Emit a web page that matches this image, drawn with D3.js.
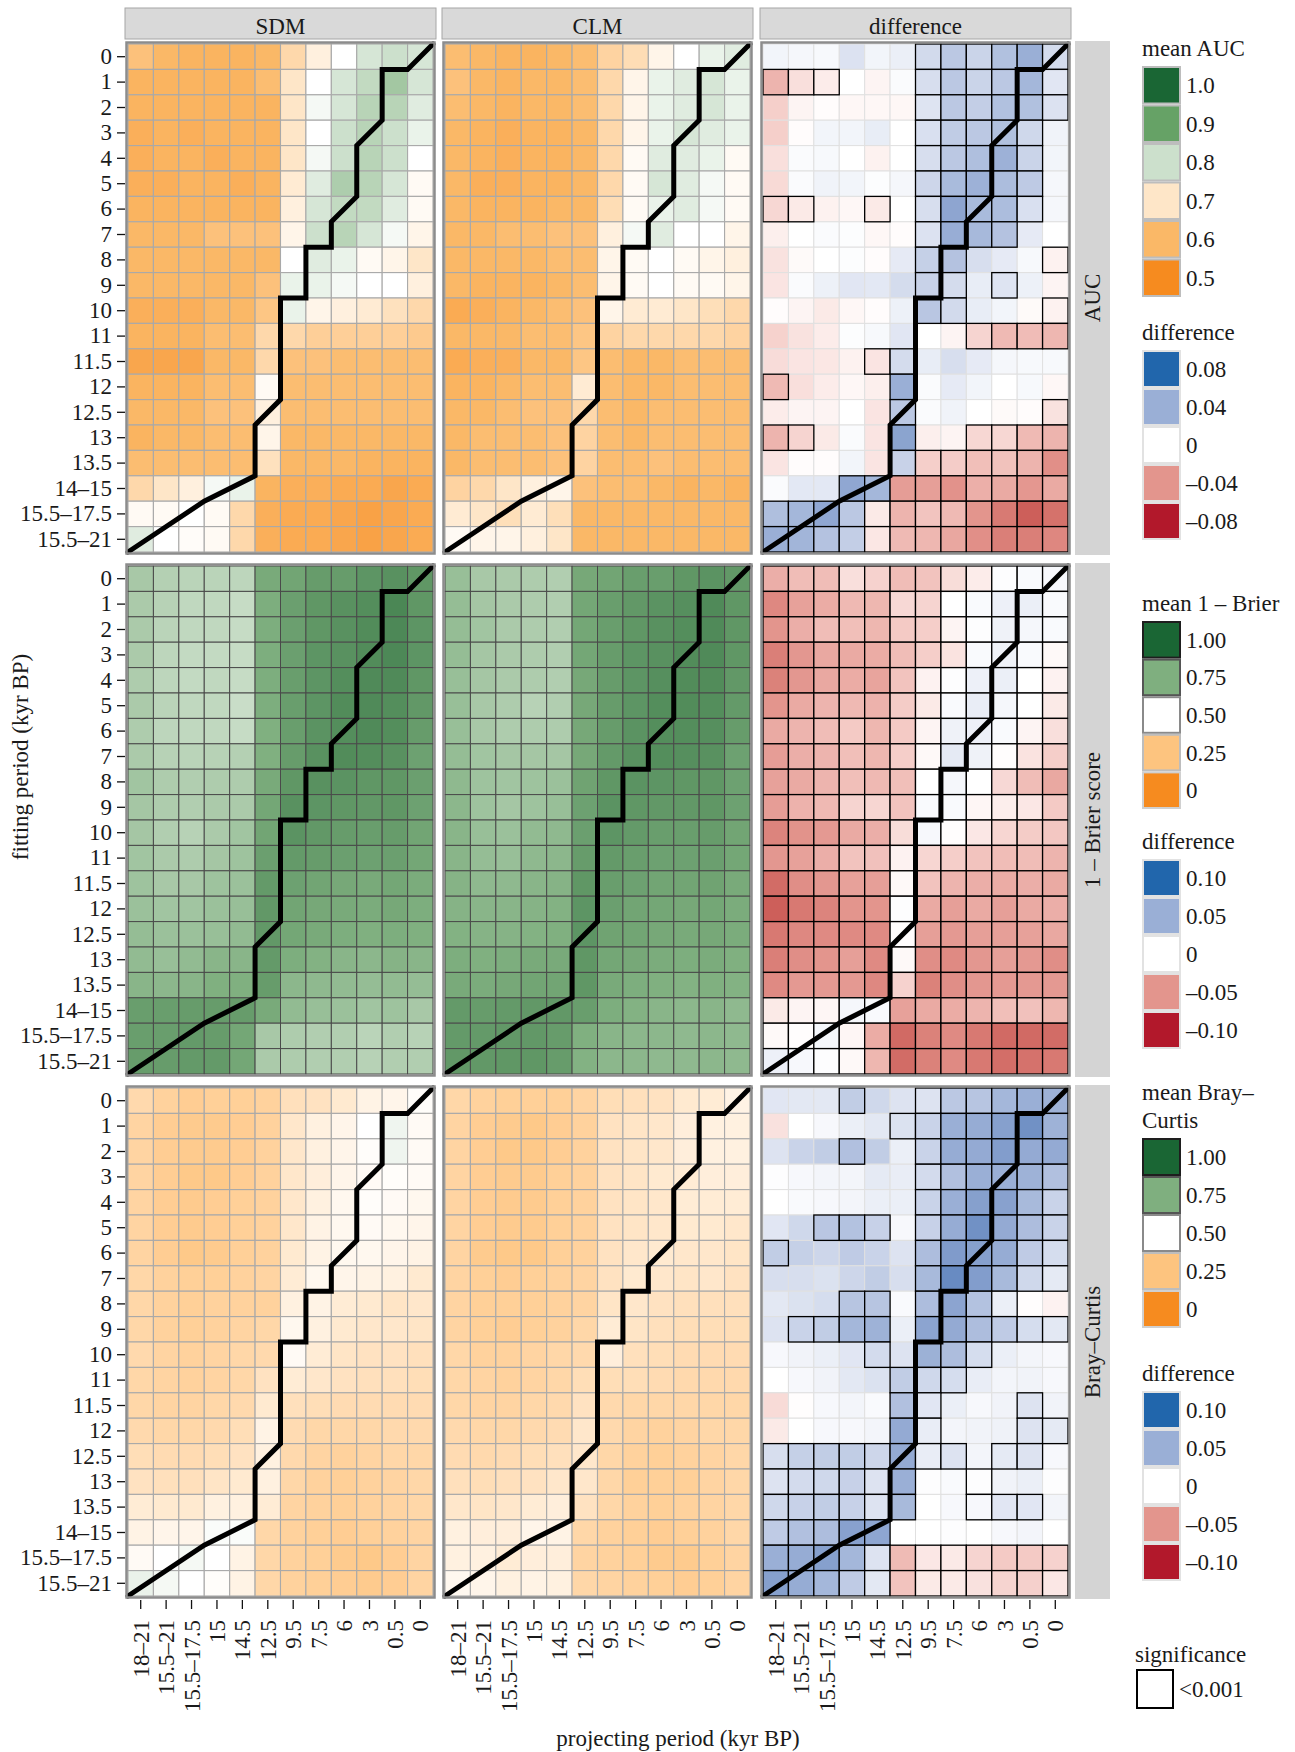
<!DOCTYPE html>
<html lang="en">
<head>
<meta charset="UTF-8">
<title>SDM vs CLM transferability</title>
<script src="https://cdn.jsdelivr.net/npm/d3@7"></script>
<style>
  body { margin: 0; background: #fff; }
  svg text { font-family: "Liberation Serif", "Times New Roman", serif; fill: #1a1a1a; }
</style>
</head>
<body>
<div id="chart"></div>
<script>
// ---- categories ----
const projPeriods = ["18–21", "15.5–21", "15.5–17.5", "15", "14.5", "12.5", "9.5", "7.5", "6", "3", "0.5", "0"];
const fitPeriods = ["0", "1", "2", "3", "4", "5", "6", "7", "8", "9", "10", "11", "11.5", "12", "12.5", "13", "13.5", "14–15", "15.5–17.5", "15.5–21"];
const models = ["SDM", "CLM", "difference"];
const metrics = ["AUC", "1 – Brier score", "Bray–Curtis"];

// where fitting period == projecting period (cell-edge units: column, row)
const samePeriodPath = [[0,20],[3,18],[5,17],[5,15],[6,14],[6,10],[7,10],[7,8],[8,8],[8,7],[9,6],[9,4],[10,3],[10,1],[11,1],[12,0]];

// ---- values (x1000), rows = fitting period, columns = projecting period ----
const aucSDM = [
  [620,600,590,590,590,600,670,720,750,790,800,790],
  [590,590,590,590,590,610,700,750,790,810,840,790],
  [590,590,590,590,590,590,700,760,790,820,820,780],
  [580,590,580,590,590,590,700,750,800,820,800,770],
  [580,590,590,580,590,590,700,760,800,820,800,750],
  [580,580,590,590,580,590,710,780,830,820,790,740],
  [590,590,590,590,590,590,720,790,810,810,780,740],
  [600,600,600,620,620,620,730,800,820,790,760,730],
  [600,600,600,600,600,600,750,780,770,740,730,700],
  [600,600,600,600,600,620,770,770,760,750,750,720],
  [580,580,580,600,600,630,770,730,720,710,690,670],
  [590,590,590,610,610,670,670,650,650,650,650,640],
  [560,560,560,600,600,670,620,620,610,610,610,610],
  [590,590,590,610,610,740,610,610,610,610,610,610],
  [600,600,600,620,620,720,610,610,610,610,610,610],
  [590,600,600,610,610,730,600,600,600,600,600,600],
  [610,610,610,610,610,690,600,600,600,590,590,590],
  [670,700,720,760,770,590,580,580,570,570,560,570],
  [740,740,750,740,670,580,570,570,560,550,560,570],
  [780,750,745,740,670,580,570,570,560,550,560,570]
];
const aucCLM = [
  [610,600,590,590,600,610,660,680,730,750,770,780],
  [620,600,590,600,600,610,670,730,770,780,790,770],
  [610,600,590,600,600,610,670,730,770,780,790,770],
  [600,590,580,590,590,600,670,730,770,790,780,770],
  [600,590,580,590,590,600,670,740,780,780,770,740],
  [600,580,580,590,590,600,670,740,790,780,760,740],
  [600,590,590,590,600,600,680,740,770,780,760,740],
  [600,600,610,610,620,620,720,760,780,750,750,730],
  [600,600,600,600,610,610,730,740,750,740,730,720],
  [600,590,590,590,600,610,730,740,750,740,740,730],
  [570,580,590,600,610,620,730,710,710,700,685,670],
  [600,600,600,610,610,630,660,670,670,670,670,660],
  [570,580,580,600,600,630,610,600,600,610,610,610],
  [590,590,600,610,610,710,610,600,600,610,610,610],
  [600,600,610,620,620,670,610,600,610,610,610,610],
  [600,610,610,610,620,660,610,600,610,610,610,610],
  [600,610,610,610,620,660,610,610,620,610,610,610],
  [660,670,700,720,730,620,610,610,600,590,600,590],
  [710,700,685,710,685,600,600,600,600,600,600,600],
  [740,730,730,720,700,600,600,600,600,600,600,600]
];
const aucDiff = [
  [5,4,3,14,5,8,18,27,21,31,40,17],
  [-28,-12,-7,0,-4,2,16,27,21,27,36,12],
  [-18,-4,-1,-3,-3,-3,13,27,24,31,31,14],
  [-18,-1,5,5,9,0,15,25,27,31,19,6],
  [-12,2,3,0,-5,0,16,27,32,39,21,5],
  [-14,2,6,5,1,4,20,34,39,33,26,4],
  [-15,-8,-5,-3,-8,0,16,45,34,33,15,4],
  [-6,0,2,1,-3,-1,14,41,35,30,10,0],
  [-11,-2,0,1,-1,10,23,30,16,10,3,-5],
  [-10,2,7,12,11,17,22,17,9,13,7,-4],
  [-1,-4,-8,-3,-1,7,28,18,9,5,-2,-5],
  [-17,-11,-7,1,3,12,0,-4,-16,-26,-25,-27],
  [-13,-10,-9,-5,-10,17,9,16,10,4,3,3],
  [-26,-12,-7,-3,-6,40,2,10,5,0,3,-3],
  [-7,-4,-4,0,-10,27,2,6,0,-2,-1,-11],
  [-28,-16,-8,2,-10,46,-6,-4,-15,-15,-26,-28],
  [-10,-1,-1,5,-10,22,-18,-19,-24,-23,-28,-42],
  [2,11,11,44,36,-37,-36,-41,-30,-32,-39,-32],
  [32,36,44,27,-8,-28,-22,-26,-40,-50,-60,-53],
  [40,37,30,24,-9,-26,-27,-33,-42,-48,-48,-45]
];
const aucSig = [
  "000000111111","111000111111","000000111111","000000111110","000000111110",
  "000000111110","110010111110","000000111100","000000110001","000000110100",
  "000000110001","000000001111","000011000000","100001000000","000001000001",
  "110001001111","000001111111","000111111111","111111111111","111111111111"
];

const brierSDM = [
  [670,646,634,634,628,766,784,814,814,838,850,832],
  [664,640,622,622,610,754,802,832,850,862,886,832],
  [664,634,622,622,610,754,802,832,850,868,880,838],
  [664,628,616,616,610,754,802,838,850,868,880,838],
  [658,628,616,622,610,754,808,838,862,874,874,832],
  [664,634,622,622,604,754,808,838,868,874,862,826],
  [658,628,622,622,610,748,808,844,862,874,862,814],
  [664,640,634,640,646,748,814,850,868,862,850,796],
  [682,658,652,658,658,766,832,850,844,832,832,802],
  [676,658,652,664,664,778,850,838,832,826,832,796],
  [676,652,640,664,682,784,844,826,814,808,814,784],
  [682,664,658,676,688,802,820,814,802,796,802,778],
  [688,670,670,688,694,820,796,784,772,766,778,760],
  [694,682,682,694,700,826,784,772,766,760,772,754],
  [706,694,694,700,712,826,778,766,754,748,754,748],
  [712,700,712,730,730,820,754,742,730,724,736,730],
  [730,724,730,748,748,814,724,718,712,706,712,706],
  [808,808,814,814,814,766,712,700,694,682,688,670],
  [808,808,820,814,778,670,658,652,652,634,652,640],
  [814,814,820,820,778,664,658,652,652,640,652,652]
];
const brierCLM = [
  [700,670,664,658,652,772,784,808,808,832,844,826],
  [706,676,664,658,652,778,808,826,844,856,874,832],
  [706,682,664,658,652,778,808,832,850,862,874,832],
  [706,676,664,658,652,778,814,838,850,868,874,832],
  [700,676,664,658,652,772,814,838,856,868,868,826],
  [700,670,658,640,652,772,814,838,862,868,862,820],
  [700,670,658,658,658,772,814,844,862,862,856,814],
  [706,682,676,676,676,772,820,850,862,856,850,796],
  [718,688,682,688,694,790,832,844,838,832,832,796],
  [724,688,676,688,700,796,844,832,826,826,832,796],
  [730,700,694,712,718,802,838,820,808,808,814,784],
  [730,706,700,718,724,814,820,808,796,796,802,778],
  [736,718,718,730,736,832,808,796,784,784,790,766],
  [736,730,730,736,742,838,802,784,778,772,778,760],
  [742,736,736,742,748,838,790,784,772,766,772,760],
  [754,748,754,766,766,832,778,772,760,754,760,748],
  [766,760,772,784,784,832,766,754,748,742,748,742],
  [820,814,820,826,826,808,754,742,730,724,730,718],
  [820,820,826,826,814,748,730,724,724,718,724,718],
  [826,826,832,832,814,742,724,724,718,718,724,718]
];
const brierDiff = [
  [-38,-31,-31,-15,-21,-31,-28,-16,-9,1,3,4],
  [-56,-44,-39,-33,-34,-18,-20,0,3,9,10,3],
  [-50,-38,-31,-30,-34,-25,-23,-5,1,8,5,3],
  [-60,-49,-41,-40,-39,-31,-23,-13,3,8,3,-3],
  [-59,-49,-41,-39,-43,-28,-6,1,9,10,0,-6],
  [-50,-40,-35,-33,-36,-24,-10,3,11,5,0,-10],
  [-40,-35,-31,-25,-34,-25,-5,8,9,3,-5,-15],
  [-46,-38,-35,-30,-34,-23,-3,13,8,-1,-13,-23],
  [-44,-40,-35,-30,-33,-30,0,5,0,-18,-31,-41],
  [-46,-36,-33,-20,-19,-28,3,3,-4,-8,-11,-25],
  [-58,-51,-48,-40,-38,-16,4,-1,-11,-19,-24,-26],
  [-49,-44,-38,-28,-29,-6,-19,-23,-28,-31,-31,-35],
  [-69,-53,-49,-44,-45,-3,-28,-35,-38,-39,-38,-40],
  [-75,-63,-58,-50,-50,1,-40,-45,-40,-45,-40,-38],
  [-63,-56,-55,-55,-55,-1,-45,-48,-45,-45,-44,-41],
  [-60,-53,-50,-45,-55,-3,-53,-55,-49,-45,-48,-53],
  [-55,-48,-48,-48,-56,-21,-59,-53,-49,-48,-48,-48],
  [-10,-5,-4,5,3,-44,-40,-39,-35,-30,-29,-34],
  [-3,-1,5,-4,-39,-70,-59,-55,-63,-70,-70,-69],
  [9,4,1,-3,-34,-69,-59,-55,-63,-68,-66,-63]
];
const brierSig = [
  "111111111111","111111111111","111111111111","111111111111","111111111111",
  "111111111111","111111111111","111111111111","111111111111","111111111111",
  "111111111111","111111111111","111111111111","111111111111","111111111111",
  "111111111111","111111111111","111111111111","111111111111","111111111111"
];

const braySDM = [
  [340,310,290,300,300,310,370,380,410,450,460,490],
  [320,290,280,280,290,310,400,440,460,500,530,480],
  [320,290,280,280,290,310,400,440,460,490,530,480],
  [320,290,270,270,290,310,400,430,460,480,490,480],
  [320,290,280,290,300,310,400,440,470,490,480,470],
  [320,290,280,290,300,310,400,450,470,480,470,460],
  [320,290,270,280,300,310,410,450,470,470,460,450],
  [330,310,300,300,310,320,420,470,460,450,440,410],
  [330,310,300,310,310,310,440,450,420,410,390,400],
  [330,310,300,310,320,330,470,440,410,400,400,390],
  [340,320,310,320,330,340,480,420,390,380,380,370],
  [330,320,310,320,330,380,420,400,380,370,370,360],
  [330,320,320,330,340,410,370,360,350,350,350,350],
  [340,330,330,340,360,450,350,330,330,330,340,340],
  [360,350,350,360,380,440,340,320,310,320,330,330],
  [380,370,370,390,410,440,330,310,300,310,320,330],
  [420,410,410,440,440,420,320,310,300,310,320,330],
  [450,460,460,510,510,330,310,300,290,300,310,320],
  [480,500,520,500,450,330,310,300,280,270,290,320],
  [540,520,500,490,450,330,310,300,290,280,290,320]
];
const brayCLM = [
  [330,310,300,300,300,320,360,370,380,410,420,450],
  [320,290,280,270,290,310,380,390,400,430,440,440],
  [320,290,270,270,290,310,380,390,400,430,440,440],
  [320,290,280,280,300,310,380,390,410,420,430,430],
  [320,290,280,280,300,310,380,390,400,420,420,420],
  [320,290,280,280,300,310,380,390,400,410,410,400],
  [320,280,270,270,300,310,380,400,410,400,400,390],
  [320,300,290,300,310,320,380,410,400,390,400,380],
  [320,300,300,300,310,320,390,400,380,370,370,370],
  [320,300,290,300,310,330,420,390,370,360,360,360],
  [330,310,310,320,330,340,430,370,360,350,350,350],
  [330,320,310,320,330,360,360,360,350,340,340,340],
  [330,320,320,330,340,380,340,330,330,330,330,330],
  [340,330,330,340,350,400,340,320,310,320,330,330],
  [350,340,350,360,370,400,330,310,300,310,320,330],
  [370,360,370,380,400,400,330,300,300,300,320,330],
  [400,390,400,420,430,380,330,310,300,310,320,330],
  [440,430,430,460,450,330,310,300,290,300,310,330],
  [440,440,420,430,430,320,310,300,280,280,300,320],
  [470,460,440,450,440,330,320,310,300,290,300,320]
];
const brayDiff = [
  [15,14,14,31,24,17,17,34,36,45,50,48],
  [-14,0,4,10,14,18,27,50,52,60,70,48],
  [17,27,31,39,31,10,27,52,53,62,53,53],
  [1,4,6,6,13,11,22,39,50,50,48,39],
  [0,3,4,6,10,10,27,50,60,59,43,27],
  [15,24,35,38,28,4,28,52,70,53,41,27],
  [31,29,25,32,27,17,41,63,60,52,32,21],
  [20,20,18,25,31,20,43,74,62,43,24,13],
  [14,18,21,36,36,3,41,57,38,10,-1,-6],
  [17,27,31,45,48,10,57,53,41,32,21,14],
  [4,7,10,15,22,17,49,41,21,10,6,4],
  [0,4,7,14,18,31,24,21,11,6,7,4],
  [-17,-1,4,6,3,39,15,10,4,7,17,7],
  [-10,0,4,4,6,53,11,6,7,8,17,13],
  [20,29,31,31,25,53,11,17,6,13,17,4],
  [17,22,24,28,17,50,1,3,1,7,10,1],
  [24,28,31,28,17,43,0,4,4,15,15,6],
  [32,39,41,59,56,0,0,1,0,4,6,0],
  [50,52,60,45,17,-32,-11,-10,-20,-25,-25,-21],
  [60,52,45,32,14,-28,-10,-10,-14,-20,-22,-11]
];
const braySig = [
  "000100111111","000001111111","000100111111","000000111111","000000111111",
  "001110111111","100000111111","000000111111","000110111100","011110111111",
  "000010111000","000001110000","000001100010","000001100011","111111110110",
  "111111001000","111111001110","111110000000","111111111111","111111111111"
];

// ---- legend entries ----
const aucLegend = [1.0, 0.9, 0.8, 0.7, 0.6, 0.5];
const aucLegendLabels = ["1.0", "0.9", "0.8", "0.7", "0.6", "0.5"];
const aucDiffLegend = [0.08, 0.04, 0, -0.04, -0.08];
const aucDiffLegendLabels = ["0.08", "0.04", "0", "–0.04", "–0.08"];
const propLegend = [1, 0.75, 0.5, 0.25, 0];
const propLegendLabels = ["1.00", "0.75", "0.50", "0.25", "0"];
const propDiffLegend = [0.1, 0.05, 0, -0.05, -0.1];
const propDiffLegendLabels = ["0.10", "0.05", "0", "–0.05", "–0.10"];

// ---- layout ----
const W = 1295, H = 1752;
const panelX = [128, 445, 763], panelY = [44, 566, 1088];
const pw = 305, ph = 508;
const FS = 23;

const svg = d3.select("#chart").append("svg")
  .attr("width", W).attr("height", H);

const x = d3.scaleBand().domain(projPeriods).range([0, pw]);
const y = d3.scaleBand().domain(fitPeriods).range([0, ph]);
const xe = d3.scaleLinear().domain([0, projPeriods.length]).range([0, pw]);
const ye = d3.scaleLinear().domain([0, fitPeriods.length]).range([0, ph]);

function labScale(domain, range) {
  return d3.scaleLinear().domain(domain).range(range).interpolate(d3.interpolateLab).clamp(true);
}
const meanAUC = labScale([0.5, 0.6, 0.7, 0.75, 0.8, 0.9, 1],
  ["#F68B1F", "#FAB867", "#FEE6C8", "#FFFFFF", "#CCE0CC", "#66A266", "#1A6634"]);
const meanProp = labScale([0, 0.25, 0.5, 0.75, 1],
  ["#F68B1F", "#FDC47F", "#FFFFFF", "#7FAF7F", "#1A6634"]);
const diffAUC = labScale([-0.08, 0, 0.08], ["#B2182B", "#FFFFFF", "#2166AC"]);
const diffProp = labScale([-0.1, 0, 0.1], ["#B2182B", "#FFFFFF", "#2166AC"]);

const rowsSpec = [
  {sdm: aucSDM, clm: aucCLM, diff: aucDiff, sig: aucSig, mean: meanAUC, dscale: diffAUC, grid: "#a9a9a9", gridW: 1.1},
  {sdm: brierSDM, clm: brierCLM, diff: brierDiff, sig: brierSig, mean: meanProp, dscale: diffProp, grid: "#4a4a4a", gridW: 1},
  {sdm: braySDM, clm: brayCLM, diff: brayDiff, sig: braySig, mean: meanProp, dscale: diffProp, grid: "#a9a9a9", gridW: 1.1}
];

function toCells(arr, sig) {
  const out = [];
  arr.forEach(function(row, i) {
    row.forEach(function(v, j) {
      out.push({fit: fitPeriods[i], proj: projPeriods[j], v: v / 1000,
                sig: sig ? sig[i][j] === "1" : false});
    });
  });
  return out;
}

const line = d3.line()
  .x(function(d) { return xe(d[0]); })
  .y(function(d) { return ye(d[1]); });

const serif = "'Liberation Serif', 'Times New Roman', serif";

rowsSpec.forEach(function(spec, r) {
  [spec.sdm, spec.clm, spec.diff].forEach(function(arr, c) {
    const g = svg.append("g").attr("transform", "translate(" + panelX[c] + "," + panelY[r] + ")");
    const isDiff = c === 2;
    let cells = toCells(arr, isDiff ? spec.sig : null);
    if (isDiff) cells.sort(function(a, b) { return a.sig - b.sig; });

    g.selectAll("rect.cell").data(cells).enter().append("rect")
      .attr("class", "cell")
      .attr("x", function(d) { return x(d.proj); })
      .attr("y", function(d) { return y(d.fit); })
      .attr("width", x.bandwidth())
      .attr("height", y.bandwidth())
      .attr("fill", function(d) { return isDiff ? spec.dscale(d.v) : spec.mean(d.v); })
      .attr("stroke", function(d) { return isDiff ? (d.sig ? "#000" : "#e0e0e0") : spec.grid; })
      .attr("stroke-width", function(d) { return isDiff ? (d.sig ? 1.3 : 1) : spec.gridW; });

    g.append("path").datum(samePeriodPath)
      .attr("d", line)
      .attr("fill", "none")
      .attr("stroke", "#000")
      .attr("stroke-width", 5)
      .attr("stroke-linejoin", "miter")
      .attr("stroke-linecap", "round");

    g.append("rect")
      .attr("x", -1.5).attr("y", -1.5)
      .attr("width", pw + 3).attr("height", ph + 3)
      .attr("fill", "none")
      .attr("stroke", "#8c8c8c")
      .attr("stroke-width", 2.5);

    // axes
    if (c === 0) {
      const ay = g.append("g").attr("transform", "translate(-3,0)")
        .call(d3.axisLeft(y).tickSize(8).tickPadding(5));
      ay.select(".domain").remove();
      ay.selectAll("line").attr("stroke", "#111").attr("stroke-width", 1.3);
      ay.selectAll("text").attr("font-size", FS).attr("fill", "#1a1a1a")
        .style("font-family", serif);
    }
    if (r === 2) {
      const ax = g.append("g").attr("transform", "translate(0," + (ph + 4) + ")")
        .call(d3.axisBottom(x).tickSize(9));
      ax.select(".domain").remove();
      ax.selectAll("line").attr("stroke", "#111").attr("stroke-width", 1.3);
      ax.selectAll("text")
        .attr("font-size", FS).attr("fill", "#1a1a1a")
        .style("font-family", serif)
        .attr("transform", "rotate(-90)")
        .attr("text-anchor", "end")
        .attr("x", -20).attr("y", 0).attr("dy", "0.35em");
    }
  });

  // right strip
  svg.append("rect")
    .attr("x", 1075).attr("y", panelY[r] - 3)
    .attr("width", 35).attr("height", ph + 6)
    .attr("fill", "#d4d4d4");
  svg.append("text")
    .attr("transform", "translate(1100," + (panelY[r] + ph / 2) + ") rotate(-90)")
    .attr("text-anchor", "middle")
    .attr("font-size", FS)
    .text(metrics[r]);
});

// top strips
models.forEach(function(m, c) {
  svg.append("rect")
    .attr("x", panelX[c] - 3).attr("y", 8)
    .attr("width", pw + 6).attr("height", 31)
    .attr("fill", "#d9d9d9").attr("stroke", "#a6a6a6").attr("stroke-width", 1);
  svg.append("text")
    .attr("x", panelX[c] + pw / 2).attr("y", 34)
    .attr("text-anchor", "middle").attr("font-size", FS)
    .text(m);
});

// axis titles
svg.append("text")
  .attr("x", 678).attr("y", 1746)
  .attr("text-anchor", "middle").attr("font-size", FS)
  .text("projecting period (kyr BP)");
svg.append("text")
  .attr("transform", "translate(28,757) rotate(-90)")
  .attr("text-anchor", "middle").attr("font-size", FS)
  .text("fitting period (kyr BP)");

// legends
function legend(titleLines, top, values, labels, scale, keyH, borders) {
  const g = svg.append("g").attr("transform", "translate(1142," + top + ")");
  titleLines.forEach(function(t, i) {
    g.append("text").attr("x", 0).attr("y", i * 28).attr("font-size", FS).text(t);
  });
  const y0 = (titleLines.length - 1) * 28 + 10;
  const k = g.selectAll("g.key").data(values).enter().append("g")
    .attr("class", "key")
    .attr("transform", function(d, i) { return "translate(0," + (y0 + i * keyH) + ")"; });
  k.append("rect")
    .attr("x", 1).attr("y", 1)
    .attr("width", 37).attr("height", keyH - 2)
    .attr("fill", function(d) { return scale(d); })
    .attr("stroke", function(d, i) { return borders[i]; })
    .attr("stroke-width", 2);
  k.append("text")
    .attr("x", 44).attr("y", keyH / 2).attr("dy", "0.35em")
    .attr("font-size", FS)
    .text(function(d, i) { return labels[i]; });
}
const lightB = ["#bdbdbd", "#bdbdbd", "#bdbdbd", "#bdbdbd", "#bdbdbd", "#bdbdbd"];
const faintB = ["#e2e2e2", "#e2e2e2", "#e2e2e2", "#e2e2e2", "#e2e2e2"];
const darkB = ["#1e1e1e", "#555555", "#8a8a8a", "#bdbdbd", "#d0d0d0"];

legend(["mean AUC"], 56, aucLegend, aucLegendLabels, meanAUC, 38.5, lightB);
legend(["difference"], 340, aucDiffLegend, aucDiffLegendLabels, diffAUC, 38, faintB);
legend(["mean 1 – Brier"], 611, propLegend, propLegendLabels, meanProp, 37.6, darkB);
legend(["difference"], 849, propDiffLegend, propDiffLegendLabels, diffProp, 38, faintB);
legend(["mean Bray–", "Curtis"], 1100, propLegend, propLegendLabels, meanProp, 38, darkB);
legend(["difference"], 1381, propDiffLegend, propDiffLegendLabels, diffProp, 38, faintB);

// significance key
svg.append("text").attr("x", 1135).attr("y", 1662).attr("font-size", FS).text("significance");
svg.append("rect").attr("x", 1137).attr("y", 1670).attr("width", 36).attr("height", 38)
  .attr("fill", "#fff").attr("stroke", "#000").attr("stroke-width", 2);
svg.append("text").attr("x", 1179).attr("y", 1689).attr("dy", "0.35em")
  .attr("font-size", FS).text("<0.001");
</script>
</body>
</html>
